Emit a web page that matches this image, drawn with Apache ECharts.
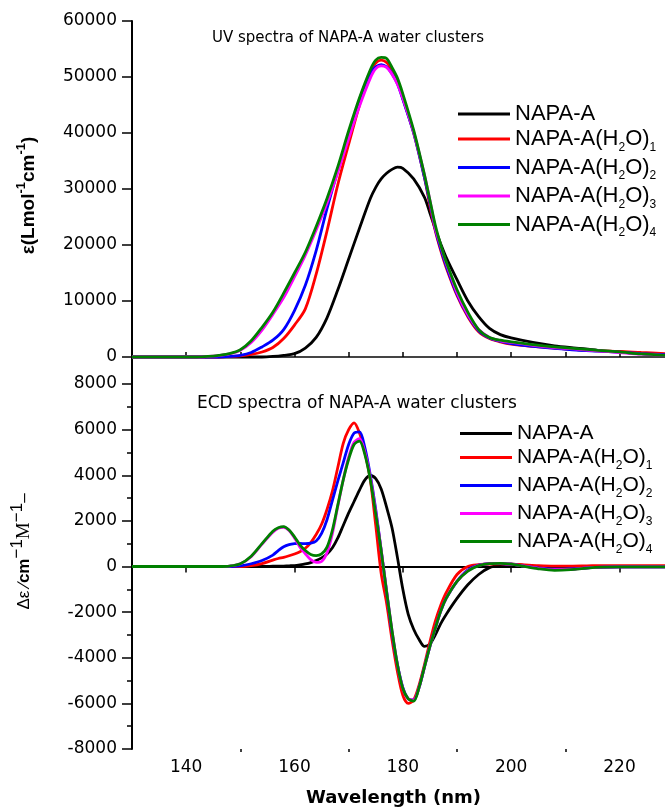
<!DOCTYPE html>
<html>
<head>
<meta charset="utf-8">
<script src="https://cdn.jsdelivr.net/npm/echarts@6/dist/echarts.min.js"></script>
<style>
html,body{margin:0;padding:0;background:#fff;}
#chart{width:665px;height:809px;}
</style>
</head>
<body>
<div id="chart"></div>
<script>
// ---------- DATA ----------
const seriesNames = ['NAPA-A', 'NAPA-A(H2O)1', 'NAPA-A(H2O)2', 'NAPA-A(H2O)3', 'NAPA-A(H2O)4'];
const seriesColors = ['#000000', '#ff0000', '#0000ff', '#ff00ff', '#008000'];

// UV panel (wavelength nm)
const uvWavelength = [130,140,142,144,146,148,150,152,154,156,158,160,162,164,166,168,170,172,174,175,176,177,178,179,180,182,184,185,186,187,188,190,192,194,196,198,200,204,208,212,216,220,224,228.4];
const uvNapaA  = [0,0,0,0,0,0,0,0,0,100,300,600,1600,3500,7000,12000,17500,23000,28300,30300,31800,32800,33500,33900,33700,31800,28500,25700,22800,20200,17800,13800,10000,7200,5100,4000,3400,2600,2000,1600,1200,900,600,350];
const uvWater1 = [0,0,0,0,0,100,200,450,900,1700,3300,5700,8600,14800,22500,30800,38000,45000,51000,52500,53000,52600,51200,49200,46200,40000,32000,27000,22500,19000,16000,11000,7200,4500,3300,2700,2300,1900,1600,1300,1100,1000,800,600];
const uvWater2 = [0,0,0,0,0,100,300,800,1800,3000,4900,8300,12800,19000,26500,33300,39500,46000,50700,51800,52200,51800,50600,48800,46000,40000,32000,27500,22800,19300,16300,11200,7400,4700,3400,2800,2400,1900,1550,1250,1050,850,600,400];
const uvWater3 = [0,0,0,100,250,550,1200,2600,4800,7600,10600,14300,18200,22700,27500,33000,39000,44800,49800,51500,52000,51700,50500,48700,46200,40200,32500,28000,23000,19800,16800,11500,7600,4900,3500,2900,2600,2100,1700,1400,1100,800,500,300];
const uvWater4 = [0,0,0,100,300,600,1300,2900,5300,8000,11400,15000,18700,23300,28300,34000,40400,46300,51300,53000,53500,53300,51700,49800,47000,40500,32500,28000,23500,20000,17000,12000,8000,4900,3500,3000,2700,2200,1800,1500,1200,900,550,300];

// ECD panel (wavelength nm)
const ecdWavelength = [130,146,148,150,152,154,156,157,158,159,160,161,162,163,164,165,166,167,168,169,170,171,172,173,174,175,176,177,178,179,180,181,182,183,184,185,186,187,188,190,192,194,196,198,200,202,205,208,211,214,217,220,224,228.4];
const ecdNapaA  = [0,0,0,0,0,0,10,15,20,30,40,70,110,170,260,380,550,820,1250,1800,2350,2850,3350,3800,3990,3850,3400,2600,1700,400,-1000,-2100,-2750,-3200,-3500,-3400,-3000,-2500,-2100,-1400,-800,-350,-50,60,100,60,-50,-120,-120,-60,-30,-20,-20,-20];
const ecdWater1 = [0,0,0,0,40,130,280,350,400,470,550,650,800,1050,1400,1850,2500,3300,4350,5400,6000,6300,5850,5000,3800,1800,-300,-1600,-3200,-4600,-5650,-6000,-5850,-5200,-4300,-3300,-2400,-1700,-1150,-350,0,80,110,120,100,80,40,20,20,30,40,40,40,40];
const ecdWater2 = [0,0,0,30,120,260,500,700,870,960,1000,1010,1000,1020,1120,1450,2050,2900,3750,4550,5350,5850,5900,5200,4000,2500,700,-1100,-2900,-4300,-5300,-5800,-5850,-5300,-4400,-3500,-2700,-1950,-1400,-650,-150,60,130,130,100,30,-60,-120,-110,-60,-30,-20,-20,-20];
const ecdWater3 = [0,0,20,120,430,980,1500,1680,1720,1580,1250,850,560,300,180,220,600,1450,2650,3800,4800,5450,5600,5000,3900,2400,750,-1050,-2800,-4300,-5350,-5800,-5850,-5300,-4400,-3500,-2700,-1950,-1400,-650,-180,50,130,130,100,30,-80,-140,-120,-60,-30,-20,-20,-20];
const ecdWater4 = [0,0,20,120,450,1000,1550,1700,1750,1600,1300,950,700,530,480,550,850,1600,2700,3800,4700,5350,5500,4900,3800,2300,700,-1100,-2800,-4300,-5350,-5800,-5900,-5300,-4400,-3500,-2700,-1950,-1400,-650,-200,40,130,140,100,20,-100,-170,-140,-70,-30,-20,-20,-20];

// Axis ticks
const xMin = 130, xMax = 228.4;
const xLabelTicks = [140, 160, 180, 200, 220];
const xMajorTicks = [130, 140, 160, 180, 200, 220];
const xMinorTicks = [150, 170, 190, 210];
const xInnerTicks = [140, 150, 160, 170, 180, 190, 200, 210, 220];
const uvMin = -4821, uvMax = 60000;
const uvTicks = [0, 10000, 20000, 30000, 40000, 50000, 60000];
const uvMinorTicks = [5000, 15000, 25000, 35000, 45000, 55000];
const ecdMin = -8000, ecdMax = 8000, ecdInterval = 2000;

// ---------- CHART ----------
const FONT = 'Liberation Sans, Arial, sans-serif';
const WIDE = 'DejaVu Sans, Verdana, sans-serif';
const uvSets = [uvNapaA, uvWater1, uvWater2, uvWater3, uvWater4];
const ecdSets = [ecdNapaA, ecdWater1, ecdWater2, ecdWater3, ecdWater4];

const series = [];
seriesNames.forEach((n, i) => {
  series.push({
    name: n, type: 'line', xAxisIndex: 0, yAxisIndex: 0,
    data: uvWavelength.map((x, k) => [x, uvSets[i][k]]),
    showSymbol: false, symbol: 'none', smooth: 0.3,
    lineStyle: { color: seriesColors[i], width: 2.8 }, itemStyle: { color: seriesColors[i] }
  });
});
seriesNames.forEach((n, i) => {
  series.push({
    name: n, type: 'line', xAxisIndex: 2, yAxisIndex: 2,
    data: ecdWavelength.map((x, k) => [x, ecdSets[i][k]]),
    showSymbol: false, symbol: 'none', smooth: 0.3,
    lineStyle: { color: seriesColors[i], width: 2.8 }, itemStyle: { color: seriesColors[i] }
  });
});

function legendFmt(name) {
  if (name === 'NAPA-A') return '{m|NAPA-A}';
  const n = name.slice(-1);
  return '{m|NAPA-A(H}{s|2}{m|O)}{s|' + n + '}';
}
function legendRich(size) {
  return {
    m: { fontSize: size, color: '#000', fontFamily: FONT },
    s: { fontSize: 12, color: '#000', fontFamily: FONT, padding: [17, 0, 0, 0] }
  };
}
const plainNum = v => String(v);

const axisBlack = { lineStyle: { color: '#000', width: 2 } };

const option = {
  animation: false,
  backgroundColor: '#ffffff',
  textStyle: { fontFamily: FONT },
  title: [
    { text: 'UV spectra of NAPA-A water clusters', left: 212, top: 31, padding: 0,
      textStyle: { fontSize: 15, fontWeight: 'normal', color: '#000', fontFamily: WIDE } },
    { text: 'ECD spectra of NAPA-A water clusters', left: 197, top: 395, padding: 0,
      textStyle: { fontSize: 17, fontWeight: 'normal', color: '#000', fontFamily: WIDE } }
  ],
  legend: [
    { data: seriesNames, orient: 'vertical', left: 458, top: 103, padding: 0, itemGap: 3,
      itemWidth: 52, itemHeight: 3, icon: 'rect', formatter: legendFmt, selectedMode: false,
      textStyle: { rich: legendRich(22) } },
    { data: seriesNames, orient: 'vertical', left: 460, top: 423, padding: 0, itemGap: 3,
      itemWidth: 52, itemHeight: 3, icon: 'rect', formatter: legendFmt, selectedMode: false,
      textStyle: { rich: legendRich(21) } }
  ],
  grid: [
    { left: 132, top: 21, width: 533, height: 363, containLabel: false },
    { left: 132, top: 384, width: 533, height: 365, containLabel: false }
  ],
  xAxis: [
    { gridIndex: 0, type: 'value', position: 'bottom', min: xMin, max: xMax,
      axisLine: axisBlack, splitLine: { show: false },
      axisTick: { show: true, inside: true, length: 5, customValues: xInnerTicks, lineStyle: { color: '#000', width: 1.5 } },
      axisLabel: { show: false } },
    { gridIndex: 0, type: 'value', position: 'top', min: xMin, max: xMax,
      axisLine: { lineStyle: { color: '#444', width: 2 } }, splitLine: { show: false },
      axisTick: { show: false }, axisLabel: { show: false } },
    { gridIndex: 1, type: 'value', position: 'bottom', min: xMin, max: xMax,
      axisLine: axisBlack, splitLine: { show: false },
      axisTick: { show: true, length: 6, customValues: xMajorTicks, lineStyle: { color: '#000', width: 1.5 } },
      axisLabel: { show: true, customValues: xLabelTicks, formatter: plainNum, fontSize: 17, color: '#000', margin: 10, fontFamily: WIDE },
      name: 'Wavelength (nm)', nameLocation: 'middle', nameGap: 40,
      nameTextStyle: { fontSize: 18, fontWeight: 'bold', color: '#000', fontFamily: WIDE, padding: [0, 10, 0, 0] } },
    { gridIndex: 1, type: 'value', position: 'bottom', min: xMin, max: xMax,
      axisLine: { show: false }, splitLine: { show: false },
      axisTick: { show: true, length: 3, customValues: xMinorTicks, lineStyle: { color: '#000', width: 1.5 } },
      axisLabel: { show: false } }
  ],
  yAxis: [
    { gridIndex: 0, type: 'value', min: uvMin, max: uvMax,
      axisLine: { show: true, lineStyle: { color: '#000', width: 2 } }, splitLine: { show: false },
      axisTick: { show: true, length: 10, customValues: uvTicks, lineStyle: { color: '#000', width: 1.5 } },
      axisLabel: { show: true, customValues: uvTicks, formatter: plainNum, fontSize: 17, color: '#000', margin: 15, fontFamily: WIDE },
      name: '{b|ε(Lmol}{p|-1}{b|cm}{p|-1}{b|)}', nameLocation: 'middle', nameGap: 90, nameRotate: 90,
      nameTextStyle: { padding: [0, 0, 0, 14], rich: {
        b: { fontSize: 19, fontWeight: 'bold', color: '#000', fontFamily: FONT },
        p: { fontSize: 13, fontWeight: 'bold', color: '#000', fontFamily: FONT, padding: [0, 0, 14, 0] } } } },
    { gridIndex: 0, type: 'value', min: uvMin, max: uvMax,
      axisLine: { show: false }, splitLine: { show: false },
      axisTick: { show: true, length: 5, customValues: uvMinorTicks, lineStyle: { color: '#000', width: 1.5 } },
      axisLabel: { show: false } },
    { gridIndex: 1, type: 'value', min: ecdMin, max: ecdMax, interval: ecdInterval,
      axisLine: { show: true, lineStyle: { color: '#000', width: 2 } }, splitLine: { show: false },
      axisTick: { show: true, length: 10, lineStyle: { color: '#000', width: 1.5 } },
      minorTick: { show: true, splitNumber: 2, length: 5, lineStyle: { color: '#000', width: 1.5 } },
      minorSplitLine: { show: false },
      axisLabel: { show: true, formatter: plainNum, fontSize: 17, color: '#000', margin: 15, fontFamily: WIDE },
      name: '{n|Δε ∕}{b|cm}{p|−1}{m|M}{p|−1}{n|–}', nameLocation: 'middle', nameGap: 92, nameRotate: 90,
      nameTextStyle: { padding: [0, 0, 0, 30], rich: {
        n: { fontSize: 17, color: '#000', fontFamily: FONT },
        b: { fontSize: 17, fontWeight: 'bold', color: '#000', fontFamily: FONT },
        m: { fontSize: 19, color: '#000', fontFamily: 'Liberation Serif, Times New Roman, serif' },
        p: { fontSize: 17, color: '#000', fontFamily: FONT, padding: [0, 0, 14, 0] } } } }
  ],
  series: series
};

const chart = echarts.init(document.getElementById('chart'), null, { renderer: 'canvas' });
chart.setOption(option);
</script>
</body>
</html>
